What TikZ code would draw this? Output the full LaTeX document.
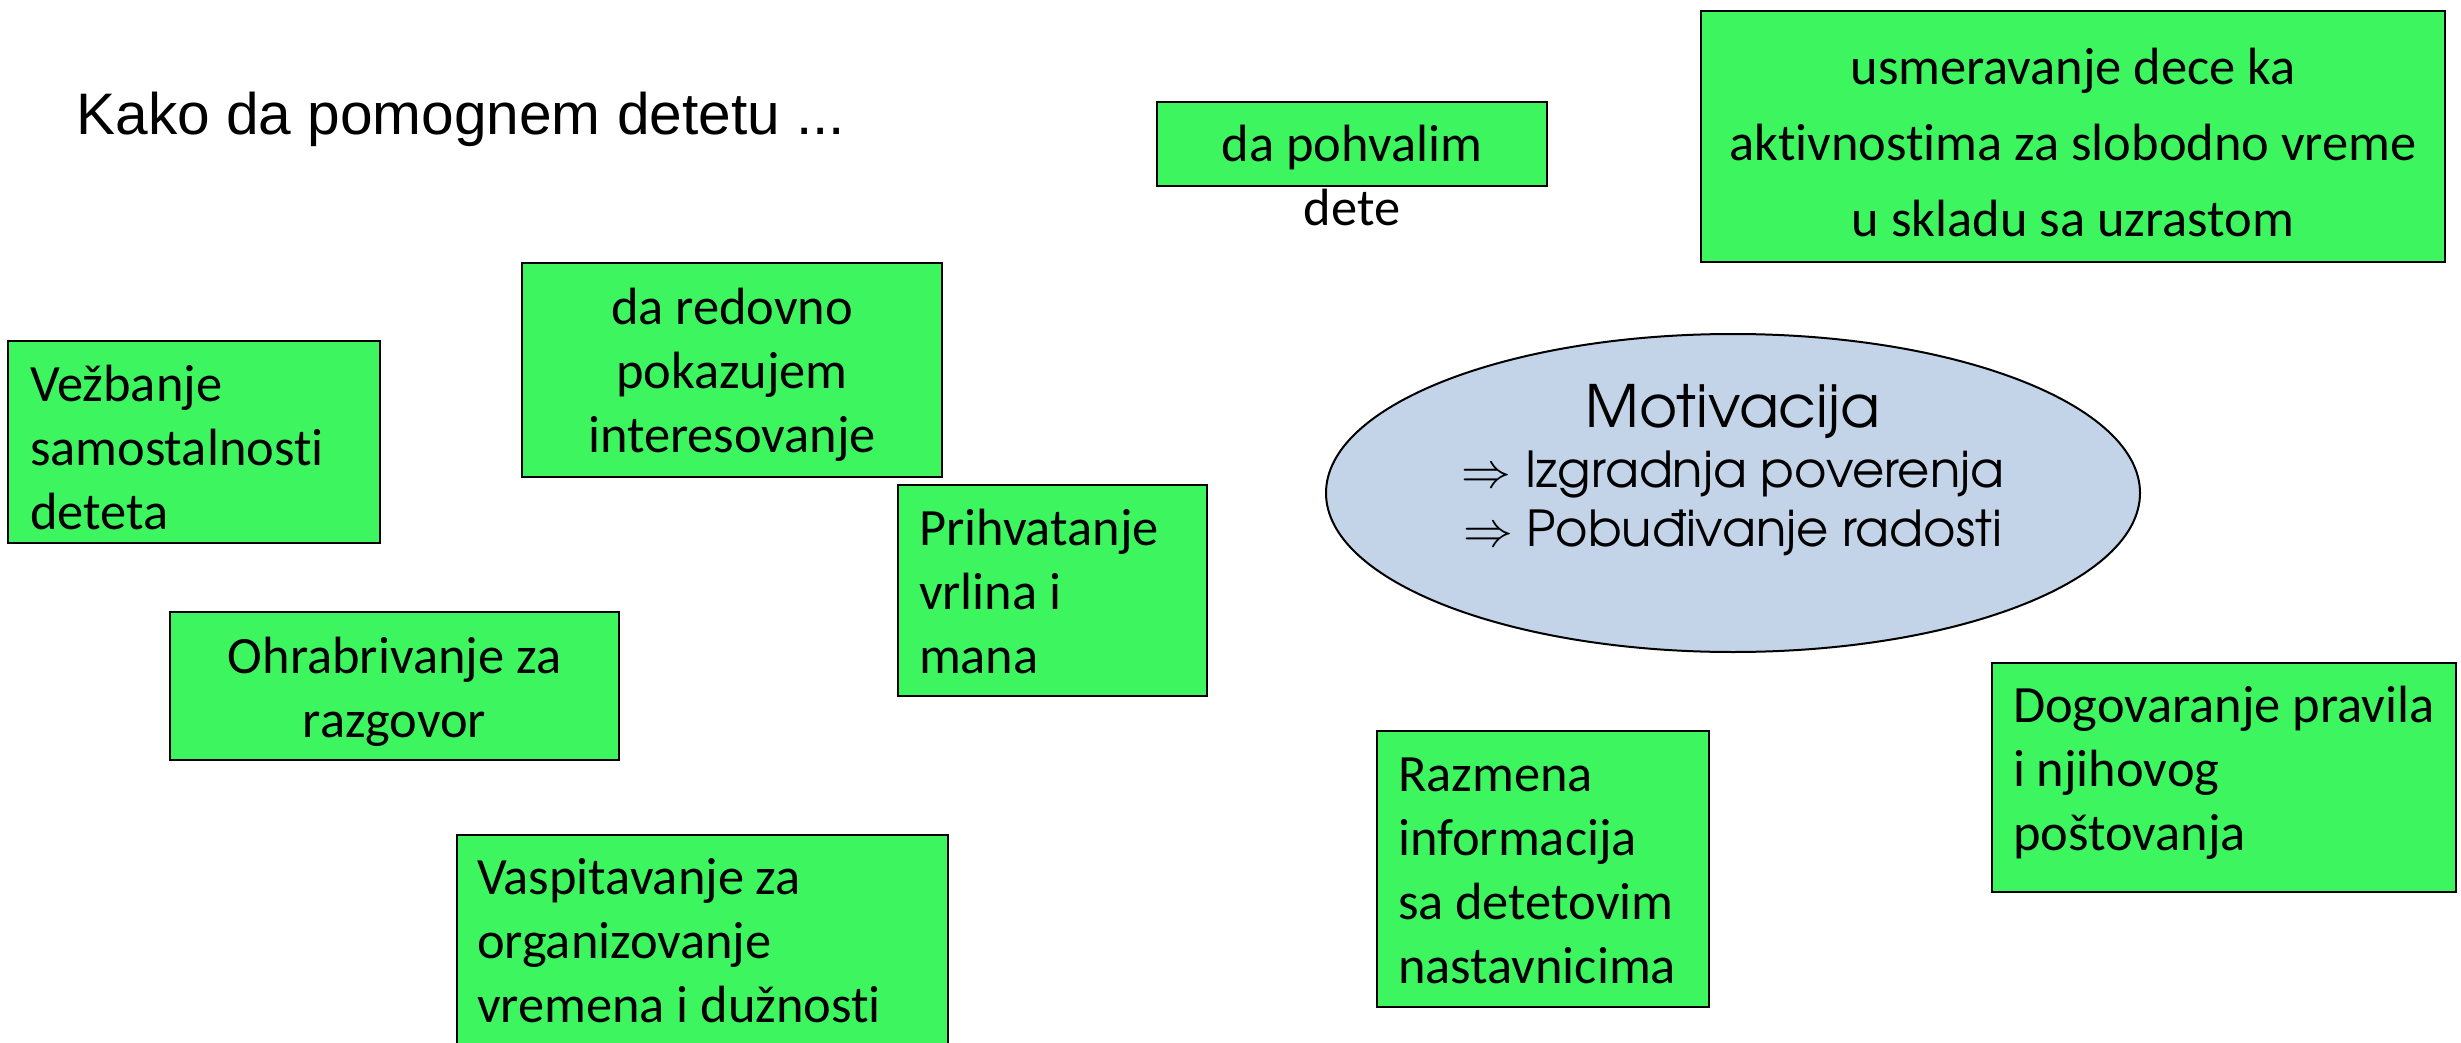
\documentclass[tikz,border=0pt]{standalone}
\usepackage{fontspec}
\usetikzlibrary{shapes.geometric}
\setmainfont[Ligatures=NoCommon]{Carlito}
\newfontfamily\arialf{Liberation Sans}
\newfontfamily\gothic[Extension=.otf]{texgyreadventor-regular}
\definecolor{boxgreen}{RGB}{61,245,95}
\definecolor{ellblue}{RGB}{195,212,233}
\begin{document}
\begin{tikzpicture}[x=0.5pt,y=-0.5pt,
  gbox/.style={draw=black,line width=1pt,fill=boxgreen},
  txt/.style={inner sep=0pt,outer sep=0pt,font=\fontsize{26.2}{32}\selectfont},
  txtl/.style={txt,anchor=base west,align=left},
  txtc/.style={txt,anchor=base,align=center},
  gtxt/.style={inner sep=0pt,anchor=base,font=\gothic\fontsize{24.8}{28}\selectfont}]
\clip (0,0) rectangle (2461,1043);
\fill[white] (0,0) rectangle (2461,1043);

% title
\node[inner sep=0pt,anchor=base west,font=\arialf\fontsize{29.3}{35}\selectfont] (title) at (76,135) {Kako da pomognem detetu ...};

% green boxes (text nodes anchored at the baseline of their last line)
\path[gbox] (8,341) rectangle (380,543);
\node[txtl] (vez) at (30,529) {Vežbanje\\samostalnosti\\deteta};

\path[gbox] (522,263) rectangle (942,477);
\node[txtc] (red) at (732,452) {da redovno\\pokazujem\\interesovanje};

\path[gbox] (898,485) rectangle (1207,696);
\node[txtl] (pri) at (919,673) {Prihvatanje\\vrlina i\\mana};

\path[gbox] (170,612) rectangle (619,760);
\node[txtc] (ohr) at (394.5,737) {Ohrabrivanje za\\razgovor};

\path[gbox] (457,835) rectangle (948,1060);
\node[txtl] (vas) at (477,1022) {Vaspitavanje za\\organizovanje\\vremena i dužnosti};

\path[gbox] (1157,102) rectangle (1547,186);
\node[txtc] (poh) at (1352,162) {da pohvalim};
\node[txtc] (dete) at (1352,226) {dete};

\path[gbox] (1701,11) rectangle (2445,262);
\node[txtc,font=\fontsize{26.2}{38}\selectfont] (usm) at (2073,237) {usmeravanje dece ka\\aktivnostima za slobodno vreme\\u skladu sa uzrastom};

\path[gbox] (1377,731) rectangle (1709,1007);
\node[txtl] (raz) at (1398,983) {Razmena\\informacija\\sa detetovim\\nastavnicima};

\path[gbox] (1992,663) rectangle (2456,892);
\node[txtl] (dog) at (2013,850) {Dogovaranje pravila\\i njihovog\\poštovanja};

% ellipse
\node[ellipse,draw=black,line width=1pt,fill=ellblue,minimum width=407pt,minimum height=159pt,inner sep=0pt] (mot) at (1733,493) {};
\node[gtxt,font=\gothic\fontsize{29.2}{32}\selectfont] (motit) at (1733,427) {Motivacija};
\node[gtxt] (izg) at (1733,487) {$\Rightarrow$ Izgradnja poverenja};
\node[gtxt] (pob) at (1733,546) {$\Rightarrow$ Pobuđivanje radosti};
\end{tikzpicture}
\end{document}
